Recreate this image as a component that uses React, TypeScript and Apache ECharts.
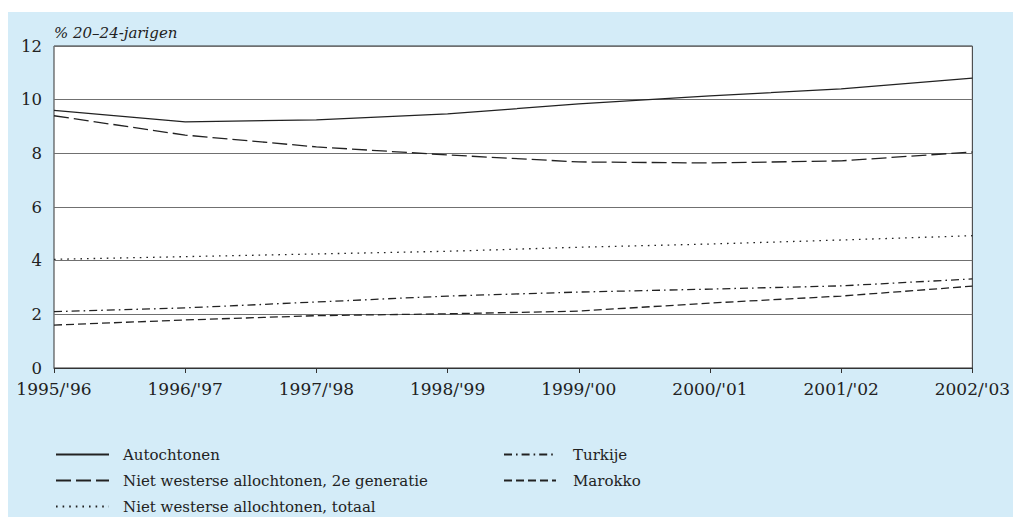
import React, { useEffect, useRef } from "react";
import * as echarts from "echarts";

const categories = ["1995/'96", "1996/'97", "1997/'98", "1998/'99", "1999/'00", "2000/'01", "2001/'02", "2002/'03"];
const autochtonen = [9.6, 9.17, 9.25, 9.47, 9.84, 10.14, 10.4, 10.8];
const nw2eGeneratie = [9.4, 8.68, 8.24, 7.94, 7.68, 7.64, 7.72, 8.05];
const nwTotaal = [4.05, 4.15, 4.25, 4.35, 4.5, 4.62, 4.77, 4.93];
const turkije = [2.1, 2.24, 2.46, 2.68, 2.83, 2.94, 3.06, 3.32];
const marokko = [1.6, 1.79, 1.95, 2.02, 2.12, 2.42, 2.68, 3.05];
const yTicks = [0, 2, 4, 6, 8, 10, 12];

const FONT = "'DejaVu Serif', 'Liberation Serif', serif";
const INK = "#222";

export default function App() {
  const ref = useRef<HTMLDivElement>(null);
  useEffect(() => {
    if (!ref.current) return;
    const chart = echarts.init(ref.current, null, { renderer: "svg" });
    const mk = (name: string, data: number[], type: any) => ({
      name,
      type: "line",
      data,
      symbol: "none",
      showSymbol: false,
      lineStyle: { color: INK, width: 1.3, type },
      itemStyle: { color: INK },
      z: 3,
    });
    const legendCommon = {
      orient: "vertical",
      top: 435,
      padding: 0,
      itemWidth: 53,
      itemHeight: 14,
      itemGap: 11,
      height: 75,
      selectedMode: false,
      itemStyle: { opacity: 0 },
    };
    chart.setOption({
      animation: false,
      backgroundColor: "#d4ecf8",
      title: {
        text: "% 20–24-jarigen",
        left: 46,
        top: 13,
        padding: 0,
        textStyle: { fontFamily: FONT, fontStyle: "italic", fontWeight: "normal", fontSize: 15, color: INK },
      },
      grid: {
        left: 46,
        top: 34,
        right: 36,
        bottom: 149,
        show: true,
        backgroundColor: "#ffffff",
        borderColor: "#333",
        borderWidth: 1,
        containLabel: false,
      },
      xAxis: {
        type: "category",
        data: categories,
        boundaryGap: false,
        axisLine: { show: true, lineStyle: { color: "#333", width: 1 } },
        axisTick: { show: true, length: 5, lineStyle: { color: "#333" } },
        axisLabel: { fontFamily: FONT, fontSize: 17, color: INK, margin: 12 },
        splitLine: { show: false },
      },
      yAxis: {
        type: "value",
        min: yTicks[0],
        max: yTicks[yTicks.length - 1],
        interval: 2,
        axisLine: { show: false },
        axisTick: { show: false },
        axisLabel: { fontFamily: FONT, fontSize: 16.5, color: INK, margin: 12 },
        splitLine: { show: true, lineStyle: { color: "#707070", width: 1 } },
      },
      legend: [
        {
          ...legendCommon,
          left: 47,
          data: ["Autochtonen", "Niet westerse allochtonen, 2e generatie", "Niet westerse allochtonen, totaal"],
          textStyle: { fontFamily: FONT, fontSize: 15, color: INK, padding: [0, 0, 0, 9] },
        },
        {
          ...legendCommon,
          left: 495,
          itemWidth: 52,
          data: ["Turkije", "Marokko"],
          textStyle: { fontFamily: FONT, fontSize: 15, color: INK, padding: [0, 0, 0, 12] },
        },
      ],
      series: [
        mk("Autochtonen", autochtonen, "solid"),
        mk("Niet westerse allochtonen, 2e generatie", nw2eGeneratie, [15, 5]),
        mk("Niet westerse allochtonen, totaal", nwTotaal, [1.6, 5]),
        mk("Turkije", turkije, [8, 4, 1.6, 4]),
        mk("Marokko", marokko, [8, 4]),
      ],
    });
    return () => chart.dispose();
  }, []);
  return (
    <div
      ref={ref}
      style={{ position: "fixed", left: 8, top: 12, width: 1005, height: 505 }}
    />
  );
}
